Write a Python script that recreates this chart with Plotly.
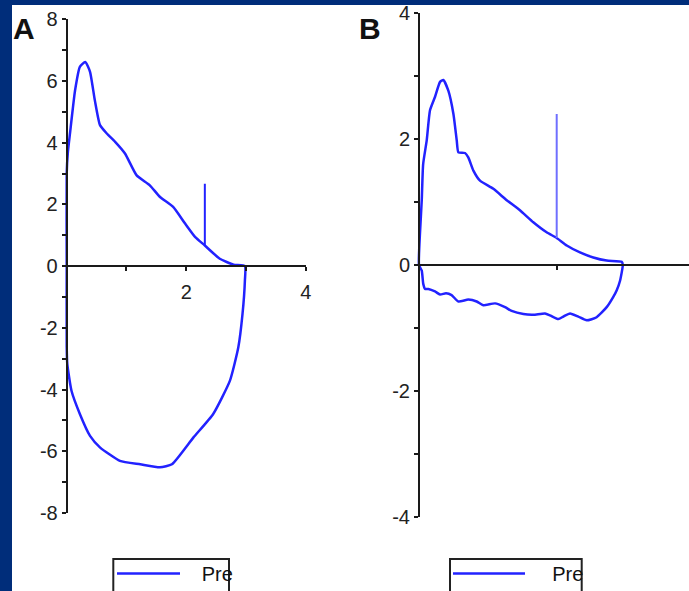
import plotly.graph_objects as go

# ---------------- data ----------------
# Panel A: flow-volume loop (volume L, flow L/s)
a_volume = [0, 0, 0.02, 0.055, 0.14, 0.22, 0.31, 0.39, 0.47, 0.557, 0.67, 0.81, 0.975,
            1.17, 1.39, 1.56, 1.78, 1.98, 2.15, 2.31, 2.56, 2.79, 2.98,
            2.98, 2.94, 2.87, 2.73, 2.45, 2.12, 1.76, 1.56, 1.23, 0.89, 0.56, 0.39,
            0.22, 0.08, 0.01, 0, 0]
a_flow = [0, 3.0, 3.7, 4.3, 5.7, 6.46, 6.62, 6.3, 5.38, 4.57, 4.3, 4.03, 3.65,
          2.94, 2.62, 2.24, 1.92, 1.38, 0.94, 0.67, 0.24, 0.05, 0,
          -0.46, -1.55, -2.63, -3.71, -4.79, -5.55, -6.42, -6.52, -6.42, -6.31, -5.88, -5.5,
          -4.79, -4.04, -3.17, -2.6, 0]
a_mark_volume = [2.31, 2.31]
a_mark_flow = [0.67, 2.67]

# Panel B: flow-volume loop
b_volume = [0, 0.007, 0.02, 0.03, 0.056, 0.08, 0.116, 0.153, 0.177, 0.213, 0.25, 0.274,
            0.286, 0.334, 0.358, 0.395, 0.443, 0.54, 0.637, 0.733, 0.83, 0.927, 1.0,
            1.073, 1.169, 1.266, 1.363, 1.472, 1.48,
            1.46, 1.436, 1.41, 1.363, 1.29, 1.218, 1.157, 1.097, 1.048, 1.012, 0.951,
            0.915, 0.83, 0.758, 0.673, 0.625, 0.552, 0.467, 0.419, 0.358, 0.286, 0.237,
            0.196, 0.153, 0.116, 0.068, 0.044, 0.031, 0.02, 0]
b_flow = [0, 0.5, 1.03, 1.6, 1.98, 2.46, 2.67, 2.91, 2.94, 2.77, 2.40, 1.98,
          1.79, 1.78, 1.71, 1.50, 1.34, 1.21, 1.03, 0.87, 0.68, 0.52, 0.43,
          0.31, 0.20, 0.12, 0.07, 0.05, 0.0,
          -0.25, -0.40, -0.51, -0.67, -0.83, -0.88, -0.82, -0.77, -0.82, -0.86, -0.80,
          -0.77, -0.79, -0.78, -0.73, -0.67, -0.61, -0.64, -0.58, -0.55, -0.58, -0.48,
          -0.45, -0.47, -0.42, -0.38, -0.38, -0.30, -0.09, 0]
b_mark_volume = [1.0, 1.0]
b_mark_flow = [0.43, 2.40]

a_y_ticks = list(range(-8, 9))
a_y_labels = [str(v) if v % 2 == 0 else "" for v in a_y_ticks]
a_x_ticks = [1, 2, 3, 4]
a_x_labels = ["", "2", "", "4"]
b_y_ticks = list(range(-4, 5))
b_y_labels = [str(v) if v % 2 == 0 else "" for v in b_y_ticks]
b_x_ticks = [1]
b_x_labels = [""]

series_name = "Pre"

# ---------------- figure ----------------
W, H = 689, 591
NAVY = "#002D7A"
BLUE = "#2222FF"
AXC = "#1a1a1a"
FONT = "Liberation Sans, Arial, sans-serif"


def px(x):
    return x / W


def py(y):
    return 1 - y / H


fig = go.Figure()

loop_line = dict(color=BLUE, width=2.5, shape="spline", smoothing=0.5)
fig.add_trace(go.Scatter(x=a_volume, y=a_flow, mode="lines",
                         name="\u00a0\u00a0\u00a0" + series_name,
                         line=loop_line, xaxis="x", yaxis="y", legend="legend"))
fig.add_trace(go.Scatter(x=a_mark_volume, y=a_mark_flow, mode="lines", showlegend=False,
                         line=dict(color=BLUE, width=2), xaxis="x", yaxis="y"))
fig.add_trace(go.Scatter(x=b_volume, y=b_flow, mode="lines",
                         name="\u00a0\u00a0\u00a0\u00a0" + series_name,
                         line=loop_line, xaxis="x2", yaxis="y2", legend="legend2"))
fig.add_trace(go.Scatter(x=b_mark_volume, y=b_mark_flow, mode="lines", showlegend=False,
                         line=dict(color="#6F6FFF", width=2), xaxis="x2", yaxis="y2"))

# geometry (pixels)
a_x0, a_unit = 66.7, 59.8
a_ytop, a_ybot = 19.3, 513.0
b_x0, b_unit = 419.0, 137.7
b_ytop, b_ybot = 13.3, 516.7

a_xmin = -0.03
a_dom = [px(a_x0 + a_xmin * a_unit), px(a_x0 + 4 * a_unit)]
b_xmin = -0.015
b_xmax = (W - b_x0) / b_unit
b_dom = [px(b_x0 + b_xmin * b_unit), 1.0]

axis_common = dict(showgrid=False, zeroline=False, showline=True, linecolor=AXC,
                   linewidth=2, ticks="outside", ticklen=4, tickwidth=2, tickcolor=AXC,
                   tickfont=dict(family=FONT, size=20, color="#222"))

legend_common = dict(xanchor="left", yanchor="top", bgcolor="rgba(0,0,0,0)",
                     borderwidth=0, font=dict(family=FONT, size=20, color="#111"))

fig.update_layout(
    width=W, height=H, margin=dict(l=0, r=0, t=0, b=0, autoexpand=False),
    paper_bgcolor=NAVY, plot_bgcolor="rgba(0,0,0,0)",
    xaxis=dict(domain=a_dom, range=[a_xmin, 4], anchor="free",
               position=(py(a_ytop) + py(a_ybot)) / 2,
               tickvals=a_x_ticks, ticktext=a_x_labels, ticklabelstandoff=4, **axis_common),
    yaxis=dict(domain=[py(a_ybot), py(a_ytop)], range=[-8, 8], anchor="free",
               position=px(a_x0), tickvals=a_y_ticks, ticktext=a_y_labels, **axis_common),
    xaxis2=dict(domain=b_dom, range=[b_xmin, b_xmax], anchor="free",
                position=(py(b_ytop) + py(b_ybot)) / 2,
                tickvals=b_x_ticks, ticktext=b_x_labels, **axis_common),
    yaxis2=dict(domain=[py(b_ybot), py(b_ytop)], range=[-4, 4], anchor="free",
                position=px(b_x0), tickvals=b_y_ticks, ticktext=b_y_labels, **axis_common),
    legend=dict(x=px(112), y=py(554), itemwidth=63, **legend_common),
    legend2=dict(x=px(448), y=py(554), itemwidth=72, **legend_common),
    shapes=[
        dict(type="rect", xref="paper", yref="paper", x0=px(12), x1=1, y0=0, y1=py(5),
             fillcolor="white", line=dict(width=0), layer="below"),
        dict(type="rect", xref="paper", yref="paper", x0=px(113.3), x1=px(229),
             y0=py(605), y1=py(559), fillcolor="white",
             line=dict(width=2, color="#222"), layer="below"),
        dict(type="rect", xref="paper", yref="paper", x0=px(450), x1=px(581.7),
             y0=py(605), y1=py(559), fillcolor="white",
             line=dict(width=2, color="#222"), layer="below"),
    ],
    annotations=[
        dict(text="<b>A</b>", xref="paper", yref="paper", x=px(24), y=py(29),
             xanchor="center", yanchor="middle", showarrow=False,
             font=dict(family=FONT, size=30, color="#111")),
        dict(text="<b>B</b>", xref="paper", yref="paper", x=px(370), y=py(29),
             xanchor="center", yanchor="middle", showarrow=False,
             font=dict(family=FONT, size=30, color="#111")),
    ],
)

fig.write_html("out.html",
               config={"displayModeBar": False},
               post_script="document.body.style.margin='0';"
                           "document.body.style.overflow='hidden';")
